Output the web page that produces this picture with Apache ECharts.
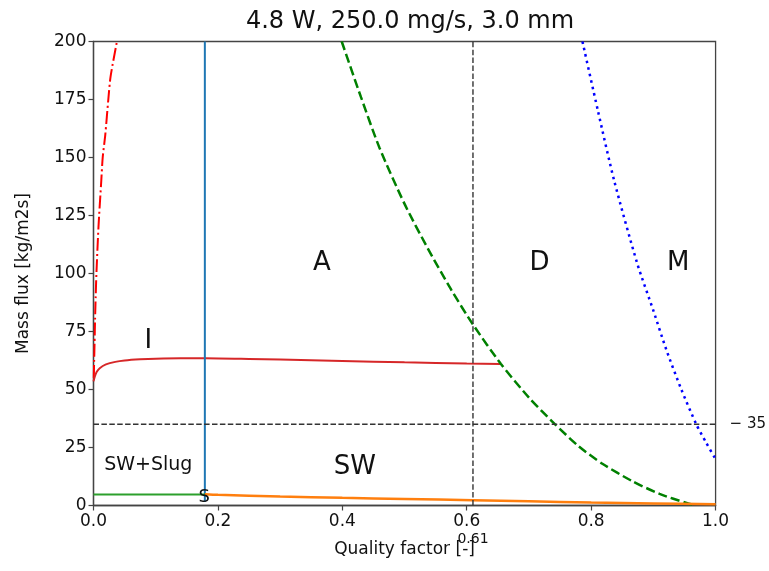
<!DOCTYPE html>
<html>
<head>
<meta charset="utf-8">
<script src="https://cdn.jsdelivr.net/npm/echarts@6/dist/echarts.min.js"></script>
<style>html,body{margin:0;padding:0;background:#fff;}#c{width:769px;height:571px;}</style>
</head>
<body>
<div id="c"></div>
<script>
// ---- data ----
const titleText = "4.8 W, 250.0 mg/s, 3.0 mm";
const xTicks = [0, 0.2, 0.4, 0.6, 0.8, 1.0];
const yTicks = [0, 25, 50, 75, 100, 125, 150, 175, 200];
// red dash-dot boundary (x, y)
const redDashX = [0.0005, 0.001, 0.0017, 0.0025, 0.0035, 0.0047, 0.008, 0.0125, 0.0148, 0.019, 0.0238, 0.0275, 0.0377];
const redDashY = [55, 62, 70, 80, 90, 100, 120, 140, 150, 160, 175, 185, 200];
// red solid curve (I boundary)
const redSolidX = [0, 0.002, 0.005, 0.01, 0.02, 0.035, 0.05, 0.075, 0.1, 0.14, 0.18, 0.25, 0.3, 0.4, 0.5, 0.6, 0.655];
const redSolidY = [53.5, 55.5, 57.5, 59.2, 60.8, 61.9, 62.5, 63.0, 63.3, 63.5, 63.5, 63.2, 62.9, 62.3, 61.7, 61.2, 61.0];
// green dashed boundary
const greenDashX = [0.399, 0.43, 0.46, 0.50, 0.537, 0.575, 0.61, 0.655, 0.70, 0.742, 0.78, 0.818, 0.866, 0.91, 0.952, 0.965];
const greenDashY = [200, 176, 154, 130, 111, 93, 78, 61, 46.5, 35, 25.5, 18, 10.5, 5, 1.2, 0.3];
// blue dotted boundary
const blueDotX = [0.786, 0.811, 0.837, 0.874, 0.90, 0.921, 0.945, 0.969, 0.985, 1.0];
const blueDotY = [200, 170, 140, 104.4, 84, 67, 50, 35, 27, 20];
// blue vertical line
const blueVertX = [0.179, 0.179];
const blueVertY = [1.5, 200];
// orange curve
const orangeX = [0.179, 0.2, 0.3, 0.4, 0.5, 0.61, 0.7, 0.8, 0.9, 1.0];
const orangeY = [4.9, 4.6, 3.9, 3.3, 2.8, 2.3, 1.8, 1.3, 0.9, 0.5];
// green solid line
const greenSolidX = [0, 0.179];
const greenSolidY = [4.7, 4.7];
// reference lines
const refX = 0.61;
const refY = 35;
// region labels
const regionNames = ["A", "D", "M", "I", "SW+Slug", "SW", "S"];
const regionX = [0.367, 0.717, 0.94, 0.088, 0.088, 0.42, 0.178];
const regionY = [104.5, 104.5, 104.5, 71, 17.5, 16.5, 3.7];
const regionSize = [26, 26, 26, 26, 19, 26, 18];

const zip = (xs, ys) => xs.map((x, i) => [x, ys[i]]);
const FONT = "DejaVu Sans";

const chart = echarts.init(document.getElementById('c'), null, {renderer: 'canvas'});
const lineSeries = (data, color, width, type, smooth) => ({
  type: 'line', data: data, showSymbol: false, symbol: 'none',
  smooth: smooth ? 0.25 : false,
  lineStyle: {color: color, width: width, type: type}, silent: true, animation: false
});

chart.setOption({
  animation: false,
  title: {text: titleText, left: 405, textAlign: 'center', top: 5,
    textStyle: {fontFamily: FONT, fontSize: 24, fontWeight: 'normal', color: '#111'}},
  grid: {left: 93.5, right: 52.5, top: 41.5, bottom: 65.5, show: true,
    borderColor: '#444', borderWidth: 1.3, backgroundColor: 'transparent'},
  xAxis: [{
    type: 'value', min: 0, max: 1, interval: 0.2, position: 'bottom',
    name: 'Quality factor [-]', nameLocation: 'middle', nameGap: 36,
    nameTextStyle: {fontFamily: FONT, fontSize: 17, color: '#111'},
    axisLine: {show: true, lineStyle: {color: '#444', width: 1.3}},
    axisTick: {show: true, length: 5, lineStyle: {color: '#444', width: 1.2}},
    axisLabel: {fontFamily: FONT, fontSize: 17, color: '#111', margin: 8,
      formatter: v => v.toFixed(1), showMinLabel: true, showMaxLabel: true},
    splitLine: {show: false}
  }, {
    type: 'value', min: 0, max: 1, position: 'bottom',
    axisLine: {show: false}, axisTick: {show: false}, splitLine: {show: false},
    axisLabel: {customValues: [refX], fontFamily: FONT, fontSize: 14, color: '#111', margin: 27,
      formatter: v => v.toFixed(2)}
  }],
  yAxis: [{
    type: 'value', min: 0, max: 200, interval: 25,
    name: 'Mass flux [kg/m2s]', nameLocation: 'middle', nameGap: 61,
    nameTextStyle: {fontFamily: FONT, fontSize: 17, color: '#111'},
    axisLine: {show: true, lineStyle: {color: '#444', width: 1.3}},
    axisTick: {show: true, length: 5, lineStyle: {color: '#444', width: 1.2}},
    axisLabel: {fontFamily: FONT, fontSize: 17, color: '#111', margin: 7, showMinLabel: true, showMaxLabel: true},
    splitLine: {show: false}
  }, {
    type: 'value', min: 0, max: 200, position: 'right',
    axisLine: {show: false}, axisTick: {show: false}, splitLine: {show: false},
    axisLabel: {customValues: [refY], fontFamily: FONT, fontSize: 15, color: '#111', margin: 14,
      formatter: v => '\u2212 ' + v}
  }],
  series: [
    lineSeries(zip(redDashX, redDashY), '#ff0000', 2, [12.8, 3.2, 2, 3.2], true),
    lineSeries(zip(redSolidX, redSolidY), '#d62728', 2, 'solid', true),
    lineSeries(zip(greenDashX, greenDashY), '#008000', 2.5, [9.2, 4], true),
    lineSeries(zip(blueDotX, blueDotY), '#0000ff', 2.5, [2.5, 4.1], true),
    lineSeries(zip(blueVertX, blueVertY), '#1f77b4', 2, 'solid', false),
    lineSeries(zip(orangeX, orangeY), '#ff7f0e', 2.5, 'solid', true),
    lineSeries(zip(greenSolidX, greenSolidY), '#2ca02c', 2, 'solid', false),
    lineSeries([[refX, 0], [refX, 200]], '#333333', 1.4, [5.5, 2.4], false),
    lineSeries([[0, refY], [1, refY]], '#333333', 1.4, [5.5, 2.4], false),
    {
      type: 'scatter', symbolSize: 0, silent: true, animation: false, z: 10,
      itemStyle: {color: '#111', opacity: 1},
      data: regionNames.map((n, i) => ({value: [regionX[i], regionY[i]], name: n,
        label: {fontSize: regionSize[i], color: '#111'}})),
      label: {show: true, position: 'inside', formatter: p => p.name,
        fontFamily: FONT, color: '#111', textBorderWidth: 0}
    }
  ]
});
</script>
</body>
</html>
